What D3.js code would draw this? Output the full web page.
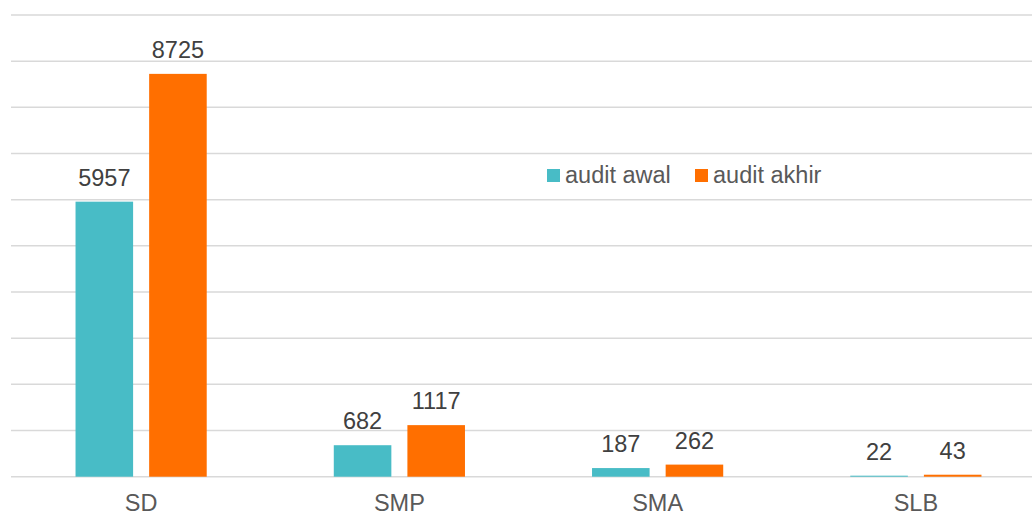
<!DOCTYPE html>
<html>
<head>
<meta charset="utf-8">
<script src="https://cdn.jsdelivr.net/npm/d3@7"></script>
<style>
  body { margin: 0; background: #fff; }
  svg { display: block; font-family: "Liberation Sans", Arial, sans-serif; }
</style>
</head>
<body>
<div id="chart"></div>
<script>
const width = 1032;
const height = 515;

// Data
const categories = ['SD', 'SMP', 'SMA', 'SLB'];
const series = ['audit awal', 'audit akhir'];
const auditAwal = [5957, 682, 187, 22];
const auditAkhir = [8725, 1117, 262, 43];
const yTicks = [0, 1000, 2000, 3000, 4000, 5000, 6000, 7000, 8000, 9000, 10000];

const colors = d3.scaleOrdinal()
    .domain(series)
    .range(['#48bcc6', '#ff6f00']);

const rows = categories.map((c, i) => ({ cat: c, values: [auditAwal[i], auditAkhir[i]] }));

const svg = d3.select('#chart')
    .append('svg')
    .attr('width', width)
    .attr('height', height);

// Scales
const x0 = d3.scaleBand()
    .domain(categories)
    .range([12, 1045])
    .paddingInner(0.492)
    .paddingOuter(0.246);

const x1 = d3.scaleBand()
    .domain(series)
    .range([0, x0.bandwidth()])
    .paddingInner(0.218);

const y = d3.scaleLinear()
    .domain([0, 10000])
    .range([476.7, 15]);

// Gridlines
svg.append('g')
    .selectAll('line')
    .data(yTicks)
    .enter().append('line')
    .attr('x1', 11)
    .attr('x2', width)
    .attr('y1', d => y(d))
    .attr('y2', d => y(d))
    .attr('stroke', '#d9d9d9')
    .attr('stroke-width', 1.5);

// Bars
const groups = svg.selectAll('.grp')
    .data(rows)
    .enter().append('g')
    .attr('class', 'grp')
    .attr('transform', d => `translate(${x0(d.cat)},0)`);

const cells = groups.selectAll('.bar')
    .data(d => d.values.map((v, i) => ({ key: series[i], value: v })))
    .enter();

cells.append('rect')
    .attr('x', d => x1(d.key))
    .attr('width', x1.bandwidth())
    .attr('y', d => y(d.value))
    .attr('height', d => y(0) - y(d.value))
    .attr('fill', d => colors(d.key));

cells.append('text')
    .attr('x', d => x1(d.key) + x1.bandwidth() / 2)
    .attr('y', d => y(d.value) - 16)
    .attr('text-anchor', 'middle')
    .attr('font-size', '23.5px')
    .attr('fill', '#404040')
    .text(d => d.value);

// X axis labels
svg.append('g')
    .selectAll('text')
    .data(categories)
    .enter().append('text')
    .attr('x', d => x0(d) + x0.bandwidth() / 2)
    .attr('y', 511)
    .attr('text-anchor', 'middle')
    .attr('font-size', '23.5px')
    .attr('fill', '#595959')
    .text(d => d);

// Legend
const legendX = [547, 695];
const legend = svg.append('g')
    .selectAll('g')
    .data(series)
    .enter().append('g')
    .attr('transform', (d, i) => `translate(${legendX[i]},169)`);

legend.append('rect')
    .attr('width', 13)
    .attr('height', 13)
    .attr('fill', d => colors(d));

legend.append('text')
    .attr('x', 18)
    .attr('y', 14)
    .attr('font-size', '23.5px')
    .attr('fill', '#595959')
    .text(d => d);
</script>
</body>
</html>
